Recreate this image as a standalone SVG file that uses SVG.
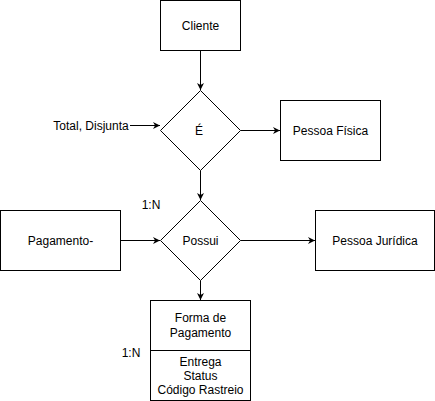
<svg xmlns="http://www.w3.org/2000/svg" width="435" height="401" viewBox="0 0 435 401">
<style>
.s{fill:#fff;stroke:#000;stroke-width:1}
.t{font-family:"Liberation Sans",Arial,sans-serif;font-size:12px;fill:#000;text-anchor:middle;dominant-baseline:central}
.l{fill:none;stroke:#000;stroke-width:1}
</style>
<defs>
<marker id="a" viewBox="0 0 10 10" refX="10" refY="5" markerWidth="7" markerHeight="7" markerUnits="userSpaceOnUse" orient="auto">
<path d="M0,0 L10,5 L0,10 L3,5 Z" fill="#000"/>
</marker>
</defs>
<rect width="435" height="401" fill="#fff"/>
<g id="connectors">
<path class="l" d="M200.5,50.5 V90" marker-end="url(#a)"/>
<path class="l" d="M130,125.5 H160" marker-end="url(#a)"/>
<path class="l" d="M240.5,130.5 H280" marker-end="url(#a)"/>
<path class="l" d="M200.5,170.5 V200" marker-end="url(#a)"/>
<path class="l" d="M120.5,240.5 H160" marker-end="url(#a)"/>
<path class="l" d="M240.5,240.5 H315" marker-end="url(#a)"/>
<path class="l" d="M200.5,280.5 V300" marker-end="url(#a)"/>
</g>
<g id="cliente">
<rect class="s" x="160.5" y="0.5" width="80" height="50"/>
<text class="t" x="200.5" y="25.5">Cliente</text>
</g>
<g id="e">
<path class="s" d="M200.5,90.5 L240.5,130.5 L200.5,170.5 L160.5,130.5 Z"/>
<text class="t" x="199" y="130.5">É</text>
</g>
<g id="total">
<text class="t" x="91" y="125.5">Total, Disjunta</text>
</g>
<g id="pessoa-fisica">
<rect class="s" x="280.5" y="100.5" width="100" height="60"/>
<text class="t" x="330.5" y="130.5">Pessoa Física</text>
</g>
<g id="possui">
<path class="s" d="M200.5,200.5 L240.5,240.5 L200.5,280.5 L160.5,240.5 Z"/>
<text class="t" x="200.5" y="240.5">Possui</text>
</g>
<g id="label-1n-a">
<text class="t" x="151" y="205">1:N</text>
</g>
<g id="pagamento">
<rect class="s" x="0.5" y="210.5" width="120" height="60"/>
<text class="t" x="60.5" y="240.5">Pagamento-</text>
</g>
<g id="pessoa-juridica">
<rect class="s" x="315.5" y="210.5" width="119" height="60"/>
<text class="t" x="375" y="240.5">Pessoa Jurídica</text>
</g>
<g id="forma-pagamento">
<rect class="s" x="150.5" y="300.5" width="100" height="100"/>
<path class="l" d="M150.5,350.5 H250.5"/>
<text class="t" x="200.5" y="318">Forma de</text>
<text class="t" x="200.5" y="333">Pagamento</text>
<text class="t" x="200.5" y="361.5">Entrega</text>
<text class="t" x="200.5" y="375.5">Status</text>
<text class="t" x="200.5" y="389.5">Código Rastreio</text>
</g>
<g id="label-1n-b">
<text class="t" x="131" y="353">1:N</text>
</g>
</svg>
